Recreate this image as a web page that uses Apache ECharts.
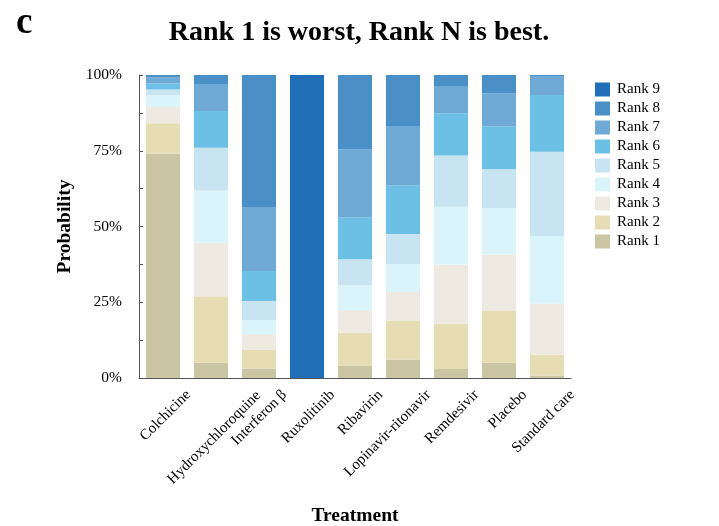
<!DOCTYPE html>
<html><head><meta charset="utf-8">
<script src="https://cdn.jsdelivr.net/npm/echarts@6/dist/echarts.min.js"></script>
<style>html,body{margin:0;padding:0;background:#fff;}#c{width:719px;height:526px;}</style>
</head><body><div id="c"></div>
<script>
const categories = ['Colchicine','Hydroxychloroquine','Interferon β','Ruxolitinib','Ribavirin','Lopinavir-ritonavir','Remdesivir','Placebo','Standard care'];
const rankNames = ['Rank 1','Rank 2','Rank 3','Rank 4','Rank 5','Rank 6','Rank 7','Rank 8','Rank 9'];
const rank1 = [74.1, 5.0, 3.1, 0, 4.1, 6.1, 3.0, 5.0, 0.8];
const rank2 = [10.0, 22.0, 6.1, 0, 10.8, 12.9, 14.9, 17.1, 6.9];
const rank3 = [5.3, 17.6, 5.2, 0, 7.5, 9.4, 19.6, 18.7, 16.8];
const rank4 = [3.9, 17.3, 4.7, 0, 8.2, 9.2, 19.0, 15.2, 22.4];
const rank5 = [1.9, 14.1, 6.3, 0, 8.6, 9.9, 16.9, 12.9, 27.8];
const rank6 = [2.0, 12.1, 9.9, 0, 13.8, 16.0, 14.0, 14.1, 18.7];
const rank7 = [2.0, 8.9, 21.1, 0, 22.5, 19.7, 8.7, 11.0, 6.3];
const rank8 = [0.8, 3.0, 43.6, 0, 24.5, 16.8, 3.9, 6.0, 0.3];
const rank9 = [0, 0, 0, 100, 0, 0, 0, 0, 0];
const yTickLabels = ['0%','25%','50%','75%','100%'];
const rankValues = [rank1, rank2, rank3, rank4, rank5, rank6, rank7, rank8, rank9];
const colors = ['#cbc5a4','#e6ddb5','#eeeae1','#daf4fb','#c7e4f0','#6cc0e6','#6fa9d6','#4a8fc6','#2170b7'];
const serif = 'Liberation Serif';

const chart = echarts.init(document.getElementById('c'));
chart.setOption({
  animation: false,
  backgroundColor: '#fff',
  title: [
    {text: 'Rank 1 is worst, Rank N is best.', left: 354, top: 14, textAlign: 'center',
     textStyle: {fontFamily: serif, fontWeight: 'bold', fontSize: 28, color: '#000'}},
    {text: 'c', left: 11, top: 0,
     textStyle: {fontFamily: serif, fontWeight: 'bold', fontSize: 37, color: '#000'}}
  ],
  legend: {
    data: rankNames.slice().reverse(),
    orient: 'vertical', left: 590, top: 77,
    itemWidth: 15, itemHeight: 14, itemGap: 4,
    icon: 'rect',
    textStyle: {fontFamily: serif, fontSize: 15, color: '#000', padding: [0,0,0,2]}
  },
  grid: {left: 139, right: 148, top: 75, bottom: 148, containLabel: false, outerBoundsMode: 'none'},
  xAxis: {
    type: 'category', data: categories,
    name: 'Treatment', nameLocation: 'middle', nameGap: 128,
    nameTextStyle: {fontFamily: serif, fontWeight: 'bold', fontSize: 19.5, color: '#000'},
    axisLine: {lineStyle: {color: '#555', width: 1}},
    axisTick: {show: false},
    axisLabel: {rotate: 45, margin: 40, interval: 0,
      formatter: v => (v === 'Hydroxychloroquine' ? '{b|' : '{a|') + v + '}',
      rich: {
        a: {fontFamily: serif, fontSize: 15, color: '#000', padding: [0, -36, 0, 0]},
        b: {fontFamily: serif, fontSize: 15, color: '#000', padding: [32, -51, 0, 0]}
      }}
  },
  yAxis: {
    type: 'value', min: 0, max: 100, interval: 12.5,
    name: 'Probability', nameLocation: 'middle', nameGap: 64,
    nameTextStyle: {fontFamily: serif, fontWeight: 'bold', fontSize: 19.5, color: '#000'},
    axisLine: {show: true, lineStyle: {color: '#555', width: 1}},
    axisTick: {show: true, inside: true, length: 4, lineStyle: {color: '#555'}},
    splitLine: {show: false},
    axisLabel: {fontFamily: serif, fontSize: 15.5, color: '#000', margin: 17,
      formatter: v => (v % 25 === 0 ? yTickLabels[v / 25] : '')}
  },
  series: rankNames.map((n, i) => ({
    name: n, type: 'bar', stack: 'all', data: rankValues[i],
    barCategoryGap: '29%', itemStyle: {color: colors[i]}
  }))
});
</script></body></html>
